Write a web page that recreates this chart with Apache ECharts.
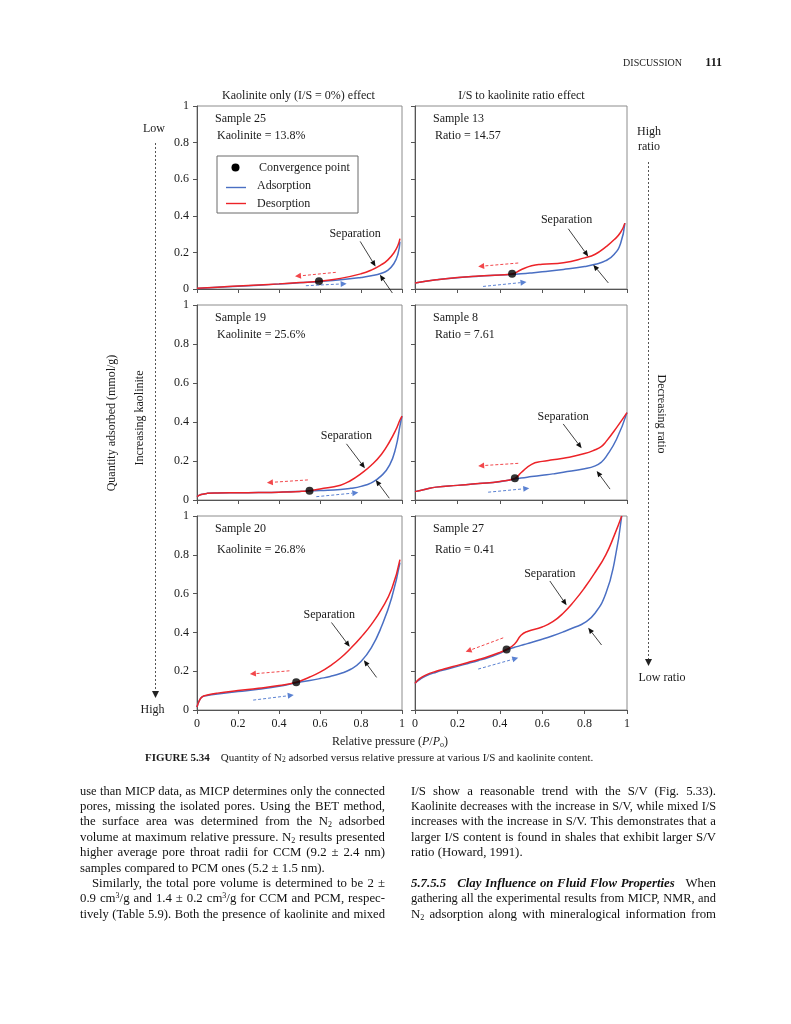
<!DOCTYPE html>
<html><head><meta charset="utf-8">
<script src="https://cdn.jsdelivr.net/npm/echarts@6/dist/echarts.min.js"></script>
<style>
html,body{margin:0;padding:0;background:#fff;}
#chart{position:absolute;left:0;top:0;width:791px;height:1024px;}
.ln{position:absolute;font-family:'Liberation Serif','Times New Roman',serif;font-size:12.8px;color:#111;white-space:nowrap;text-align:justify;text-align-last:justify;line-height:15px;height:15px;}
.ln.last{text-align-last:left;}
.probe{position:absolute;left:0;top:0;visibility:hidden;font-family:'Liberation Serif','Times New Roman',serif;white-space:nowrap;}
.ln sub,.probe sub{font-size:8px;vertical-align:-2px;line-height:0;}
.ln sup,.probe sup{font-size:8px;vertical-align:4px;line-height:0;}
.ln b i,.probe b i{font-weight:bold;font-style:italic;}
</style></head>
<body>
<div id="chart"></div>
<script>
// ---------------- data ----------------
const p25   = [0, 0.1, 0.2, 0.3, 0.4, 0.5, 0.6, 0.7, 0.8, 0.85, 0.9, 0.93, 0.96, 0.98, 0.99];
const ads25 = [0.003, 0.009, 0.015, 0.021, 0.027, 0.034, 0.041, 0.05, 0.063, 0.072, 0.086, 0.102, 0.138, 0.19, 0.258];
const des25 = [0.004, 0.01, 0.016, 0.022, 0.028, 0.035, 0.043, 0.058, 0.083, 0.103, 0.133, 0.158, 0.197, 0.238, 0.275];
const conv25 = [0.595, 0.042];

const p13   = [0, 0.1, 0.2, 0.3, 0.4, 0.458, 0.5, 0.55, 0.6, 0.7, 0.8, 0.85, 0.9, 0.94, 0.97, 0.99];
const ads13 = [0.033, 0.05, 0.062, 0.07, 0.076, 0.08, 0.083, 0.088, 0.094, 0.107, 0.123, 0.135, 0.155, 0.19, 0.25, 0.36];
const des13 = [0.033, 0.05, 0.063, 0.071, 0.077, 0.082, 0.105, 0.127, 0.135, 0.143, 0.17, 0.19, 0.23, 0.27, 0.31, 0.36];
const conv13 = [0.458, 0.083];

const p19   = [0, 0.02, 0.05, 0.1, 0.2, 0.3, 0.4, 0.5, 0.549, 0.6, 0.7, 0.75, 0.8, 0.85, 0.9, 0.94, 0.97, 0.99, 1.0];
const ads19 = [0.017, 0.028, 0.034, 0.036, 0.037, 0.038, 0.040, 0.044, 0.047, 0.049, 0.054, 0.06, 0.07, 0.088, 0.125, 0.18, 0.27, 0.38, 0.43];
const des19 = [0.017, 0.028, 0.034, 0.036, 0.037, 0.038, 0.040, 0.044, 0.048, 0.056, 0.076, 0.1, 0.135, 0.178, 0.235, 0.3, 0.36, 0.41, 0.43];
const conv19 = [0.549, 0.048];

const p8    = [0, 0.05, 0.1, 0.2, 0.3, 0.4, 0.471, 0.5, 0.55, 0.6, 0.65, 0.7, 0.8, 0.85, 0.88, 0.9, 0.95, 1.0];
const ads8  = [0.043, 0.055, 0.066, 0.075, 0.084, 0.094, 0.108, 0.113, 0.12, 0.127, 0.134, 0.142, 0.16, 0.175, 0.195, 0.22, 0.31, 0.448];
const des8  = [0.043, 0.055, 0.066, 0.075, 0.084, 0.095, 0.111, 0.14, 0.183, 0.198, 0.206, 0.214, 0.238, 0.258, 0.275, 0.298, 0.37, 0.448];
const conv8 = [0.471, 0.111];

const p20   = [0, 0.01, 0.025, 0.05, 0.1, 0.2, 0.3, 0.4, 0.484, 0.55, 0.6, 0.65, 0.7, 0.75, 0.8, 0.85, 0.9, 0.95, 0.99];
const ads20 = [0.015, 0.045, 0.068, 0.075, 0.083, 0.095, 0.107, 0.122, 0.14, 0.152, 0.162, 0.173, 0.188, 0.21, 0.25, 0.32, 0.43, 0.58, 0.76];
const des20 = [0.015, 0.045, 0.068, 0.077, 0.087, 0.1, 0.112, 0.126, 0.143, 0.17, 0.195, 0.228, 0.268, 0.318, 0.375, 0.44, 0.52, 0.625, 0.775];
const conv20 = [0.484, 0.143];

const p27   = [0, 0.02, 0.05, 0.1, 0.15, 0.2, 0.25, 0.3, 0.35, 0.4, 0.432, 0.47, 0.5, 0.53, 0.6, 0.65, 0.7, 0.75, 0.8, 0.85, 0.9, 0.94, 0.975];
const ads27 = [0.137, 0.155, 0.175, 0.195, 0.21, 0.225, 0.24, 0.255, 0.272, 0.292, 0.31, 0.323, 0.333, 0.342, 0.365, 0.383, 0.403, 0.425, 0.45, 0.5, 0.6, 0.76, 1.0];
const des27 = [0.137, 0.16, 0.18, 0.2, 0.215, 0.23, 0.245, 0.26, 0.277, 0.297, 0.312, 0.34, 0.385, 0.405, 0.428, 0.455, 0.5, 0.56, 0.63, 0.71, 0.8, 0.9, 1.0];
const conv27 = [0.432, 0.312];

const sampleLabels = ['Sample 25', 'Sample 13', 'Sample 19', 'Sample 8', 'Sample 20', 'Sample 27'];
const detailLabels = ['Kaolinite = 13.8%', 'Ratio = 14.57', 'Kaolinite = 25.6%', 'Ratio = 7.61', 'Kaolinite = 26.8%', 'Ratio = 0.41'];
const columnTitles = ['Kaolinite only (I/S = 0%) effect', 'I/S to kaolinite ratio effect'];
const legendNames = ['Convergence point', 'Adsorption', 'Desorption'];

// annotation anchors in data units of each panel: separation label, black arrows, dashed direction arrows
const annotations = [
  {sep: [0.771, 0.300], toDes: [[0.796, 0.260], [0.871, 0.123]], toAds: [[0.953, -0.022], [0.892, 0.078]], dashDes: [[0.677, 0.091], [0.478, 0.069]], dashAds: [[0.531, 0.018], [0.730, 0.029]]},
  {sep: [0.715, 0.378], toDes: [[0.723, 0.329], [0.817, 0.178]], toAds: [[0.912, 0.033], [0.841, 0.133]], dashDes: [[0.487, 0.142], [0.298, 0.123]], dashAds: [[0.321, 0.014], [0.526, 0.038]]},
  {sep: [0.729, 0.330], toDes: [[0.729, 0.288], [0.819, 0.163]], toAds: [[0.938, 0.009], [0.872, 0.103]], dashDes: [[0.541, 0.103], [0.341, 0.089]], dashAds: [[0.582, 0.017], [0.787, 0.038]]},
  {sep: [0.699, 0.428], toDes: [[0.699, 0.390], [0.786, 0.265]], toAds: [[0.920, 0.056], [0.857, 0.149]], dashDes: [[0.487, 0.188], [0.298, 0.175]], dashAds: [[0.345, 0.040], [0.539, 0.060]]},
  {sep: [0.645, 0.489], toDes: [[0.656, 0.451], [0.745, 0.326]], toAds: [[0.876, 0.168], [0.814, 0.257]], dashDes: [[0.451, 0.202], [0.258, 0.185]], dashAds: [[0.274, 0.051], [0.472, 0.077]]},
  {sep: [0.636, 0.704], toDes: [[0.636, 0.665], [0.715, 0.540]], toAds: [[0.880, 0.335], [0.817, 0.424]], dashDes: [[0.416, 0.372], [0.239, 0.300]], dashAds: [[0.298, 0.211], [0.487, 0.269]]}
];

const panels = [
  {p: p25, ads: ads25, des: des25, conv: conv25},
  {p: p13, ads: ads13, des: des13, conv: conv13},
  {p: p19, ads: ads19, des: des19, conv: conv19},
  {p: p8,  ads: ads8,  des: des8,  conv: conv8},
  {p: p20, ads: ads20, des: des20, conv: conv20},
  {p: p27, ads: ads27, des: des27, conv: conv27}
];

// body text of the page
const leftLines = [
  'use than MICP data, as MICP determines only the connected',
  'pores, missing the isolated pores. Using the BET method,',
  'the surface area was determined from the N<sub>2</sub> adsorbed',
  'volume at maximum relative pressure. N<sub>2</sub> results presented',
  'higher average pore throat radii for CCM (9.2 ± 2.4 nm)',
  'samples compared to PCM ones (5.2 ± 1.5 nm).',
  'Similarly, the total pore volume is determined to be 2 ±',
  '0.9 cm<sup>3</sup>/g and 1.4 ± 0.2 cm<sup>3</sup>/g for CCM and PCM, respec-',
  'tively (Table 5.9). Both the presence of kaolinite and mixed'
];
const rightLines = [
  'I/S show a reasonable trend with the S/V (Fig. 5.33).',
  'Kaolinite decreases with the increase in S/V, while mixed I/S',
  'increases with the increase in S/V. This demonstrates that a',
  'larger I/S content is found in shales that exhibit larger S/V',
  'ratio (Howard, 1991).',
  '<b><i>5.7.5.5&nbsp;&nbsp; Clay Influence on Fluid Flow Properties</i></b>&nbsp;&nbsp; When',
  'gathering all the experimental results from MICP, NMR, and',
  'N<sub>2</sub> adsorption along with mineralogical information from'
];

// ---------------- layout & style ----------------
const FONT = "'Liberation Serif','Times New Roman',serif";
const BLUE = '#4a6fc3', RED = '#ec2328', BLUE_D = '#5b82d2', RED_D = '#f2474b', INK = '#1a1a1a';
const grids = [
  {left: 197, top: 106, width: 205, height: 183},
  {left: 415, top: 106, width: 212, height: 183},
  {left: 197, top: 305, width: 205, height: 195},
  {left: 415, top: 305, width: 212, height: 195},
  {left: 197, top: 516, width: 205, height: 194},
  {left: 415, top: 516, width: 212, height: 194}
];

const chart = echarts.init(document.getElementById('chart'), null, {renderer: 'canvas'});

const option = {
  animation: false,
  backgroundColor: '#fff',
  grid: grids.map(g => Object.assign({show: true, borderColor: '#8c8c8c', borderWidth: 1, backgroundColor: 'transparent'}, g)),
  xAxis: grids.map((g, i) => ({
    gridIndex: i, type: 'value', min: 0, max: 1, interval: 0.2,
    axisLine: {show: true, lineStyle: {color: '#555', width: 1}},
    axisTick: {show: true, length: 4, lineStyle: {color: '#555'}},
    splitLine: {show: false},
    axisLabel: {show: i >= 4, margin: 8, fontFamily: FONT, fontSize: 12, color: INK}
  })),
  yAxis: grids.map((g, i) => ({
    gridIndex: i, type: 'value', min: 0, max: 1, interval: 0.2,
    axisLine: {show: true, lineStyle: {color: '#555', width: 1}},
    axisTick: {show: true, length: 4, lineStyle: {color: '#555'}},
    splitLine: {show: false},
    axisLabel: {show: i % 2 === 0, margin: 8, fontFamily: FONT, fontSize: 12, color: INK}
  })),
  series: []
};

panels.forEach((P, i) => {
  option.series.push({
    name: 'Adsorption', type: 'line', xAxisIndex: i, yAxisIndex: i,
    data: P.p.map((x, k) => [x, P.ads[k]]),
    smooth: 0.5, symbol: 'none', showSymbol: false,
    lineStyle: {color: BLUE, width: 1.5}, z: 3
  });
  option.series.push({
    name: 'Desorption', type: 'line', xAxisIndex: i, yAxisIndex: i,
    data: P.p.map((x, k) => [x, P.des[k]]),
    smooth: 0.5, symbol: 'none', showSymbol: false,
    lineStyle: {color: RED, width: 1.5}, z: 4
  });
  option.series.push({
    name: 'Convergence point', type: 'scatter', xAxisIndex: i, yAxisIndex: i,
    data: [P.conv], symbol: 'circle', symbolSize: 8,
    itemStyle: {color: '#000'}, z: 6
  });
});

chart.setOption(option);

// ---------------- annotations & page text ----------------
const G = [];
function txt(x, y, text, opts) {
  G.push(Object.assign({type: 'text', x: x, y: y, silent: true, z: 20,
    style: Object.assign({text: text, fontFamily: FONT, fontSize: 12, fill: INK, align: 'left', verticalAlign: 'middle'}, (opts && opts.style) || {})},
    opts && opts.rotation !== undefined ? {rotation: opts.rotation} : {}));
}
function arrowPix(a, b, color, dash, width, headLen, headW) {
  const dx = b[0] - a[0], dy = b[1] - a[1], L = Math.hypot(dx, dy), ux = dx / L, uy = dy / L;
  const base = [b[0] - ux * headLen, b[1] - uy * headLen];
  G.push({type: 'line', silent: true, z: 15, shape: {x1: a[0], y1: a[1], x2: base[0], y2: base[1]},
    style: {stroke: color, lineWidth: width, lineDash: dash || null}});
  G.push({type: 'polygon', silent: true, z: 15, shape: {points: [b, [base[0] - uy * headW, base[1] + ux * headW], [base[0] + uy * headW, base[1] - ux * headW]]},
    style: {fill: color}});
}
function arrowData(i, seg, color, dash, width, headLen, headW) {
  const a = chart.convertToPixel({gridIndex: i}, seg[0]);
  const b = chart.convertToPixel({gridIndex: i}, seg[1]);
  arrowPix(a, b, color, dash, width, headLen, headW);
}

annotations.forEach((A, i) => {
  const s = chart.convertToPixel({gridIndex: i}, A.sep);
  txt(s[0], s[1], 'Separation', {style: {align: 'center'}});
  arrowData(i, A.toDes, '#111', null, 0.8, 6, 2.6);
  arrowData(i, A.toAds, '#111', null, 0.8, 6, 2.6);
  arrowData(i, A.dashDes, RED_D, [3, 2], 1, 6, 3);
  arrowData(i, A.dashAds, BLUE_D, [3, 2], 1, 6, 3);
});

// panel labels
grids.forEach((g, i) => {
  txt(g.left + 18, g.top + 12.5, sampleLabels[i]);
  txt(g.left + 20, g.top + (i >= 4 ? 33.5 : 30), detailLabels[i]);
});

// legend box in the first panel
G.push({type: 'rect', silent: true, z: 18, shape: {x: 217, y: 156, width: 141, height: 57},
  style: {fill: '#fff', stroke: '#6a6a6a', lineWidth: 1}});
G.push({type: 'circle', silent: true, z: 19, shape: {cx: 235.5, cy: 167.5, r: 4}, style: {fill: '#000'}});
G.push({type: 'line', silent: true, z: 19, shape: {x1: 226, y1: 187.5, x2: 246, y2: 187.5}, style: {stroke: BLUE, lineWidth: 1.4}});
G.push({type: 'line', silent: true, z: 19, shape: {x1: 226, y1: 203.5, x2: 246, y2: 203.5}, style: {stroke: RED, lineWidth: 1.4}});
txt(259, 167.5, legendNames[0]);
txt(257, 185.5, legendNames[1]);
txt(257, 203.5, legendNames[2]);

// column titles
txt(298.5, 95.5, columnTitles[0], {style: {align: 'center'}});
txt(521.5, 95.5, columnTitles[1], {style: {align: 'center'}});

// header
txt(682, 63, 'DISCUSSION', {style: {align: 'right', fontSize: 10}});
txt(722, 62.5, '111', {style: {align: 'right', fontSize: 12, fontWeight: 'bold'}});

// left side annotation
txt(154, 128.5, 'Low', {style: {align: 'center'}});
G.push({type: 'line', silent: true, z: 10, shape: {x1: 155.5, y1: 143, x2: 155.5, y2: 691}, style: {stroke: '#555', lineWidth: 1, lineDash: [2, 2]}});
G.push({type: 'polygon', silent: true, z: 10, shape: {points: [[152, 691], [159, 691], [155.5, 698]]}, style: {fill: '#222'}});
txt(152.5, 709.5, 'High', {style: {align: 'center'}});
txt(112, 423, 'Quantity adsorbed (mmol/g)', {rotation: Math.PI / 2, style: {align: 'center'}});
txt(140, 418, 'Increasing kaolinite', {rotation: Math.PI / 2, style: {align: 'center'}});

// right side annotation
txt(649, 132, 'High', {style: {align: 'center'}});
txt(649, 147, 'ratio', {style: {align: 'center'}});
G.push({type: 'line', silent: true, z: 10, shape: {x1: 648.5, y1: 162, x2: 648.5, y2: 659}, style: {stroke: '#555', lineWidth: 1, lineDash: [2, 2]}});
G.push({type: 'polygon', silent: true, z: 10, shape: {points: [[645, 659], [652, 659], [648.5, 666]]}, style: {fill: '#222'}});
txt(662, 678, 'Low ratio', {style: {align: 'center'}});
txt(661, 414, 'Decreasing ratio', {rotation: -Math.PI / 2, style: {align: 'center'}});

// x axis title
txt(390, 742, 'Relative pressure ({i|P}/{i|P}{s|o})', {style: {align: 'center',
  rich: {i: {fontFamily: FONT, fontSize: 12, fontStyle: 'italic', fill: INK}, s: {fontFamily: FONT, fontSize: 8, fill: INK, padding: [6, 0, 0, 0]}}}});

// caption
txt(145, 758, '{b|FIGURE 5.34}    Quantity of N{s|2} adsorbed versus relative pressure at various I/S and kaolinite content.', {style: {fontSize: 11,
  rich: {b: {fontFamily: FONT, fontSize: 11, fontWeight: 'bold', fill: INK}, s: {fontFamily: FONT, fontSize: 7.5, fill: INK, padding: [5, 0, 0, 0]}}}});

chart.setOption({graphic: {elements: G}});

// body paragraphs (real text); each line's font is reduced slightly if its natural width would overflow the column
const probe = document.createElement('span');
probe.className = 'probe';
document.body.appendChild(probe);
function fitSize(html, w) {
  probe.innerHTML = html;
  let fs = 12.8;
  probe.style.fontSize = fs + 'px';
  while (probe.getBoundingClientRect().width > w - 3 && fs > 11) {
    fs -= 0.1;
    probe.style.fontSize = fs + 'px';
  }
  return fs;
}
function addLines(lines, x, ys, lastIdx, indentIdx) {
  lines.forEach((t, k) => {
    const d = document.createElement('div');
    d.className = 'ln' + (lastIdx.indexOf(k) >= 0 ? ' last' : '');
    const ind = indentIdx.indexOf(k) >= 0 ? 12 : 0;
    const w = 305 - ind;
    d.style.left = (x + ind) + 'px';
    d.style.width = w + 'px';
    d.style.top = (ys[k] - 7.5) + 'px';
    d.style.fontSize = fitSize(t, w) + 'px';
    d.innerHTML = t;
    document.body.appendChild(d);
  });
}
const leftY = leftLines.map((_, k) => 791 + 15.4 * k);
const rightY = [791, 806.4, 821.8, 837.2, 852.6, 883.4, 898.8, 914.2];
addLines(leftLines, 80, leftY, [5], [6]);
addLines(rightLines, 411, rightY, [4], []);
probe.remove();
</script>
</body></html>
